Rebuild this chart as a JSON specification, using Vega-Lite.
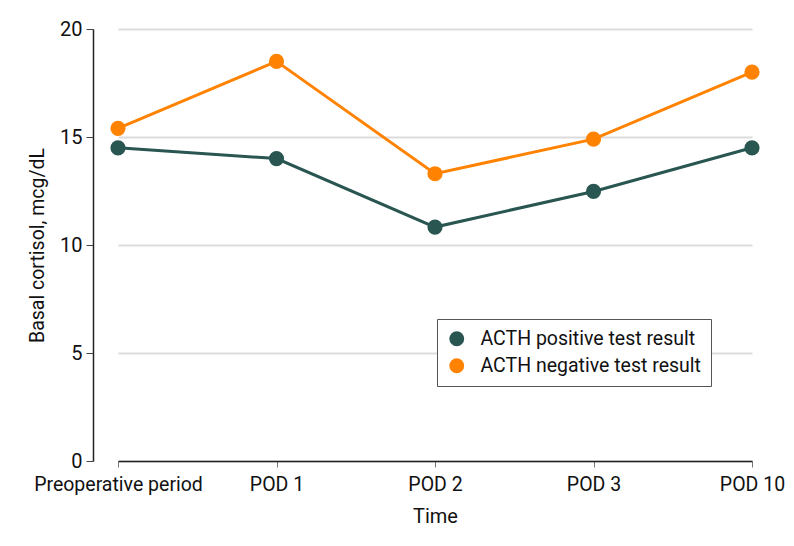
{
  "$schema": "https://vega.github.io/schema/vega-lite/v6.json",
  "width": 659,
  "height": 432,
  "autosize": "none",
  "padding": {"left": 93, "top": 29, "right": 42, "bottom": 85},
  "background": "white",
  "config": {
    "font": "Roboto",
    "view": {"stroke": null},
    "axis": {"labelFont": "Roboto", "titleFont": "Roboto", "labelColor": "#111", "titleColor": "#111", "titleFontWeight": "normal"}
  },
  "data": {
    "values": [
      {"time": "Preoperative period", "group": "ACTH positive test result", "cortisol": 14.5},
      {"time": "POD 1", "group": "ACTH positive test result", "cortisol": 14.0},
      {"time": "POD 2", "group": "ACTH positive test result", "cortisol": 10.83},
      {"time": "POD 3", "group": "ACTH positive test result", "cortisol": 12.48},
      {"time": "POD 10", "group": "ACTH positive test result", "cortisol": 14.5},
      {"time": "Preoperative period", "group": "ACTH negative test result", "cortisol": 15.4},
      {"time": "POD 1", "group": "ACTH negative test result", "cortisol": 18.5},
      {"time": "POD 2", "group": "ACTH negative test result", "cortisol": 13.3},
      {"time": "POD 3", "group": "ACTH negative test result", "cortisol": 14.9},
      {"time": "POD 10", "group": "ACTH negative test result", "cortisol": 18.0}
    ]
  },
  "encoding": {
    "x": {
      "field": "time",
      "type": "nominal",
      "sort": ["Preoperative period", "POD 1", "POD 2", "POD 3", "POD 10"],
      "scale": {"type": "point", "range": [25, 659], "padding": 0},
      "axis": {
        "title": "Time",
        "labelAngle": 0,
        "labelFontSize": 19.5,
        "titleFontSize": 20,
        "labelPadding": 8,
        "titlePadding": 13,
        "labelLimit": 300,
        "tickColor": "#777",
        "tickSize": 6,
        "domainColor": "#222",
        "domainWidth": 1.5,
        "grid": false
      }
    },
    "y": {
      "field": "cortisol",
      "type": "quantitative",
      "scale": {"domain": [0, 20], "nice": false},
      "axis": {
        "title": "Basal cortisol, mcg/dL",
        "values": [0, 5, 10, 15, 20],
        "labelFontSize": 20,
        "titleFontSize": 19.5,
        "labelPadding": 4,
        "titlePadding": 12,
        "tickColor": "#444",
        "tickSize": 7,
        "domainColor": "#222",
        "domainWidth": 1.5,
        "gridColor": "#dcdcdc",
        "gridWidth": 2
      }
    },
    "color": {
      "field": "group",
      "type": "nominal",
      "scale": {
        "domain": ["ACTH positive test result", "ACTH negative test result"],
        "range": ["#295651", "#ff8300"]
      },
      "legend": {
        "title": null,
        "orient": "none",
        "legendX": 344,
        "legendY": 290,
        "strokeColor": "#555",
        "fillColor": "white",
        "padding": 10,
        "labelFontSize": 19.5,
        "labelLimit": 400,
        "labelColor": "#111",
        "labelFont": "Roboto",
        "symbolType": "circle",
        "symbolSize": 220,
        "symbolStrokeWidth": 0,
        "symbolOpacity": 1,
        "rowPadding": 6,
        "labelOffset": 14
      }
    }
  },
  "layer": [
    {"mark": {"type": "line", "strokeWidth": 3}},
    {"mark": {"type": "point", "filled": true, "size": 230, "opacity": 1}}
  ]
}
